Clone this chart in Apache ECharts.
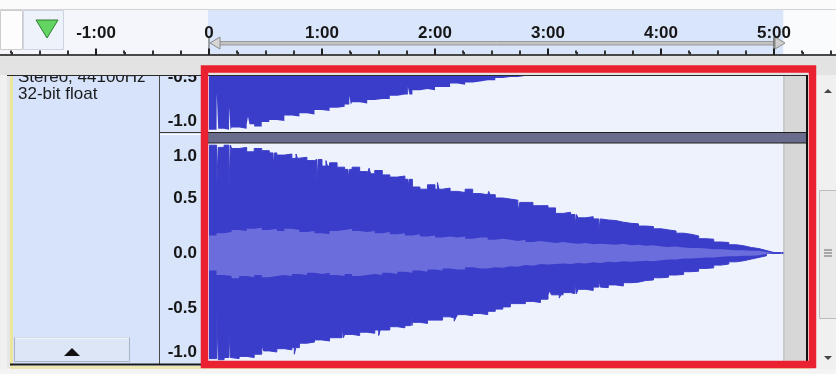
<!DOCTYPE html>
<html>
<head>
<meta charset="utf-8">
<title>track</title>
<script src="https://cdn.jsdelivr.net/npm/echarts@6/dist/echarts.min.js"></script>
<style>
html, body { margin: 0; padding: 0; background: #f0f0f0; }
#main { width: 836px; height: 374px; }
</style>
</head>
<body>
<div id="main"></div>
<script>
// envelope samples: one value every SAMPLE_STEP seconds starting at 0:00
var SAMPLE_STEP = 4;
var TRACK_END = 305;              // seconds
var PLAY_REGION = [0, 300];       // seconds
var RULER_MINUTES = [-2, -1, 0, 1, 2, 3, 4, 5, 6];
var RULER_SUBDIV = 4;             // small ticks per minute
var CHANNEL_TICKS = [-1, -0.5, 0, 0.5, 1];

// right channel (lower track), peak and rms
var RIGHT_PEAK_HI = [
  0.98, 0.96, 0.98, 0.95, 0.96, 0.92, 0.95, 0.93, 0.91, 0.89,
  0.90, 0.86, 0.87, 0.84, 0.85, 0.79, 0.82, 0.78, 0.76, 0.78,
  0.74, 0.72, 0.75, 0.71, 0.69, 0.70, 0.67, 0.60, 0.58, 0.62,
  0.58, 0.59, 0.56, 0.55, 0.58, 0.54, 0.53, 0.53, 0.50, 0.49,
  0.48, 0.46, 0.46, 0.43, 0.43, 0.41, 0.36, 0.37, 0.35, 0.32,
  0.33, 0.31, 0.30, 0.295, 0.28, 0.27, 0.265, 0.245, 0.24, 0.22,
  0.21, 0.20, 0.18, 0.17, 0.155, 0.13, 0.125, 0.10, 0.095, 0.075,
  0.065, 0.05, 0.04, 0.022, 0.004, 0.004, 0.004
];
var RIGHT_PEAK_LO = [
  -0.96, -0.97, -0.95, -0.96, -0.94, -0.95, -0.92, -0.89, -0.90, -0.87,
  -0.88, -0.86, -0.82, -0.81, -0.79, -0.80, -0.77, -0.77, -0.74, -0.75,
  -0.72, -0.73, -0.70, -0.70, -0.67, -0.68, -0.66, -0.63, -0.64, -0.61,
  -0.61, -0.58, -0.59, -0.56, -0.57, -0.55, -0.56, -0.53, -0.51, -0.49,
  -0.46, -0.46, -0.44, -0.45, -0.42, -0.38, -0.38, -0.36, -0.37, -0.33,
  -0.34, -0.31, -0.315, -0.29, -0.30, -0.27, -0.265, -0.25, -0.245, -0.225,
  -0.22, -0.20, -0.195, -0.17, -0.165, -0.14, -0.135, -0.11, -0.10, -0.08,
  -0.07, -0.055, -0.04, -0.025, -0.004, -0.004, -0.004
];
var RIGHT_RMS_HI = [
  0.16, 0.18, 0.19, 0.21, 0.20, 0.22, 0.23, 0.21, 0.22, 0.20,
  0.22, 0.21, 0.19, 0.20, 0.18, 0.17, 0.20, 0.21, 0.22, 0.20,
  0.19, 0.20, 0.18, 0.19, 0.17, 0.18, 0.16, 0.17, 0.15, 0.16,
  0.14, 0.15, 0.14, 0.15, 0.13, 0.14, 0.14, 0.12, 0.13, 0.12,
  0.11, 0.12, 0.10, 0.11, 0.10, 0.09, 0.10, 0.09, 0.085, 0.09,
  0.08, 0.085, 0.08, 0.075, 0.085, 0.07, 0.075, 0.065, 0.07, 0.06,
  0.055, 0.06, 0.05, 0.045, 0.045, 0.04, 0.035, 0.035, 0.03, 0.025,
  0.025, 0.02, 0.02, 0.01, 0, 0, 0
];
var RIGHT_RMS_LO = [
  -0.16, -0.20, -0.21, -0.23, -0.21, -0.22, -0.20, -0.22, -0.21, -0.20,
  -0.21, -0.19, -0.20, -0.18, -0.19, -0.18, -0.20, -0.21, -0.19, -0.21,
  -0.20, -0.19, -0.20, -0.18, -0.19, -0.17, -0.18, -0.16, -0.17, -0.15,
  -0.16, -0.14, -0.15, -0.15, -0.13, -0.14, -0.14, -0.13, -0.135, -0.12,
  -0.125, -0.11, -0.115, -0.10, -0.105, -0.10, -0.095, -0.10, -0.09, -0.095,
  -0.085, -0.09, -0.08, -0.085, -0.075, -0.08, -0.075, -0.07, -0.075, -0.065,
  -0.06, -0.06, -0.05, -0.05, -0.045, -0.04, -0.04, -0.035, -0.03, -0.03,
  -0.025, -0.025, -0.02, -0.01, 0, 0, 0
];
// left channel (upper track), only its lower half shows
var LEFT_PEAK_LO = [
  -0.98, -0.97, -0.98, -0.96, -0.97, -0.93, -0.95, -0.91, -0.89, -0.90,
  -0.85, -0.86, -0.83, -0.84, -0.80, -0.81, -0.78, -0.77, -0.75, -0.73,
  -0.74, -0.71, -0.70, -0.70, -0.67, -0.66, -0.66, -0.62, -0.61, -0.62,
  -0.59, -0.59, -0.56, -0.57, -0.55, -0.54, -0.53, -0.53, -0.51, -0.50,
  -0.50, -0.49, -0.48, -0.47, -0.46, -0.45
];
// short single-column peaks: [seconds, value]
var RIGHT_SPIKES_HI = [[4.1, 0.59], [10.6, 0.61], [34.0, 0.79], [46.2, 0.90], [57.3, 0.65],
  [62.1, 0.84], [73.8, 0.68], [85.0, 0.77], [105.7, 0.61], [121.3, 0.64], [148.5, 0.56],
  [164.2, 0.38], [170.1, 0.47], [194.3, 0.25], [207.0, 0.20]];
var RIGHT_SPIKES_LO = [[4.1, -0.52], [10.6, -0.71], [28.2, -0.84], [45.3, -0.92], [70.6, -0.68],
  [90.1, -0.75], [107.0, -0.55], [130.2, -0.62], [181.0, -0.34], [186.0, -0.41],
  [194.3, -0.27], [207.0, -0.24]];
var LEFT_SPIKES_LO = [[4.1, -0.65], [10.6, -0.77], [20.7, -0.86], [74.5, -0.67], [105.6, -0.59]];

var SPIKE_WIDTH = 0.8;

// layout
var W = 836;
var PX_PER_SEC = 113 / 60;
var ZERO_X = 209;
var CH_HALF = 110;
var FONT = '"Liberation Sans", Arial, sans-serif';
var PEAK = '#3a3dc9', RMS = '#6b6ddd';

var rulerMin = RULER_MINUTES[0] * 60;
var rulerMax = RULER_MINUTES[RULER_MINUTES.length - 1] * 60;
var wavW = TRACK_END * PX_PER_SEC;
var topMax = -1 + 56 / CH_HALF;

function stepData(vals, spikes, end) {
  var pts = vals.map(function (v, i) { return [i * SAMPLE_STEP, v]; });
  spikes.forEach(function (d) {
    var k = Math.floor(d[0] / SAMPLE_STEP);
    pts.push([d[0], d[1]], [d[0] + SPIKE_WIDTH, vals[k]]);
  });
  if (end) pts.push([end, vals[vals.length - 1]]);
  pts.sort(function (a, b) { return a[0] - b[0]; });
  return pts;
}

function wave(xi, yi, data, color, z, origin, lw) {
  return {
    type: 'line', xAxisIndex: xi, yAxisIndex: yi, data: data, step: 'end',
    symbol: 'none', silent: true, z: z, animation: false,
    lineStyle: { width: lw || 0, color: color },
    areaStyle: { color: color, opacity: 1, origin: origin || 'auto' }
  };
}

// ruler tick times: [seconds, 1 for minute marks]
var rulerTicks = [];
RULER_MINUTES.forEach(function (m) {
  for (var q = 0; q < RULER_SUBDIV; q++) rulerTicks.push([m * 60 + q * 60 / RULER_SUBDIV, q === 0 ? 1 : 0]);
});

var labStyle = { fontFamily: FONT, fontSize: 17, fontWeight: 'bold', color: '#161616' };
function chLabel(v) {
  var s = v.toFixed(1);
  if (v === 1) return '{top|' + s + '}';
  if (v === -1) return '{bot|' + s + '}';
  return s;
}
var chRich = {
  top: Object.assign({ padding: [26, 0, 0, 0] }, labStyle),
  bot: Object.assign({ padding: [0, 0, 22, 0] }, labStyle)
};

function chAxis(grid, min, max, ticks) {
  return {
    type: 'value', gridIndex: grid, min: min, max: max, z: 5,
    axisLine: { show: false }, axisTick: { show: false }, splitLine: { show: false },
    axisLabel: Object.assign({ customValues: ticks, margin: 12, formatter: chLabel, rich: chRich }, labStyle)
  };
}

var chart = echarts.init(document.getElementById('main'));

var option = {
  backgroundColor: '#f0f0f0',
  animation: false,
  grid: [
    { left: ZERO_X + rulerMin * PX_PER_SEC, top: 10, width: (rulerMax - rulerMin) * PX_PER_SEC, height: 45,
      outerBoundsMode: 'none' },
    { left: ZERO_X, top: 76, width: wavW, height: 56, outerBoundsMode: 'none' },
    { left: ZERO_X, top: 143, width: wavW, height: 2 * CH_HALF, outerBoundsMode: 'none' }
  ],
  xAxis: [
    {
      type: 'value', gridIndex: 0, min: rulerMin, max: rulerMax, interval: 60, position: 'bottom', z: 30,
      axisLine: { show: true, lineStyle: { color: '#111', width: 1.5 } },
      axisTick: { show: true, inside: true, length: 6, lineStyle: { color: '#222', width: 2 } },
      minorTick: { show: true, splitNumber: RULER_SUBDIV, length: 3, lineStyle: { color: '#333', width: 2 } },
      splitLine: { show: false },
      axisLabel: { show: false }
    },
    {
      type: 'value', gridIndex: 0, min: rulerMin, max: rulerMax, interval: 60, position: 'bottom', z: 30,
      axisLine: { show: false }, axisTick: { show: false }, splitLine: { show: false },
      axisLabel: Object.assign({ inside: true, margin: 13,
        formatter: function (v) { var m = Math.round(v / 60); return m === 0 ? '0' : m + ':00'; }
      }, labStyle)
    },
    { type: 'value', gridIndex: 1, min: 0, max: TRACK_END, show: false },
    { type: 'value', gridIndex: 2, min: 0, max: TRACK_END, show: false }
  ],
  yAxis: [
    { type: 'value', gridIndex: 0, min: 0, max: 1, show: false },
    chAxis(1, -1, topMax, CHANNEL_TICKS.filter(function (v) { return v <= topMax; })),
    chAxis(2, -1, 1, CHANNEL_TICKS)
  ],
  series: [
    {
      // ruler ticks drawn as a custom series on the ruler axis
      type: 'custom', xAxisIndex: 0, yAxisIndex: 0, data: rulerTicks, silent: true, z: 40, clip: false,
      renderItem: function (params, api) {
        var p = api.coord([api.value(0), 0]);
        var big = api.value(1) === 1;
        return {
          type: 'rect',
          shape: { x: Math.round(p[0]) - 1, y: p[1] - (big ? 6.5 : 4.5), width: 2, height: big ? 6.5 : 3 },
          style: { fill: big ? '#1e1e1e' : '#333333' }
        };
      }
    },
    wave(2, 1, stepData(LEFT_PEAK_LO, LEFT_SPIKES_LO), PEAK, 10, 'end'),
    wave(3, 2, stepData(RIGHT_PEAK_HI, RIGHT_SPIKES_HI, TRACK_END), PEAK, 10, 'auto', 1),
    wave(3, 2, stepData(RIGHT_PEAK_LO, RIGHT_SPIKES_LO, TRACK_END), PEAK, 10, 'auto', 1),
    wave(3, 2, stepData(RIGHT_RMS_HI, [], TRACK_END), RMS, 11),
    wave(3, 2, stepData(RIGHT_RMS_LO, [], TRACK_END), RMS, 11)
  ]
};
chart.setOption(option);

// window chrome around the track
function rect(x, y, w, h, fill, z, stroke) {
  return { type: 'rect', silent: true, z: z, shape: { x: x, y: y, width: w, height: h },
    style: { fill: fill, stroke: stroke || null, lineWidth: 1 } };
}
function seg(x1, y1, x2, y2, color, w, z) {
  return { type: 'line', silent: true, z: z, shape: { x1: x1, y1: y1, x2: x2, y2: y2 },
    style: { stroke: color, lineWidth: w } };
}
function poly(pts, fill, stroke, z) {
  return { type: 'polygon', silent: true, z: z, shape: { points: pts },
    style: { fill: fill, stroke: stroke || null, lineWidth: 1 } };
}
function label(txt, x, y, z) {
  return { type: 'text', silent: true, z: z, x: x, y: y,
    style: { text: txt, font: '17px ' + FONT, fill: '#1a1a1a', verticalAlign: 'middle' } };
}

var rx = function (t) { return chart.convertToPixel({ xAxisIndex: 0 }, t); };
var wx = function (t) { return chart.convertToPixel({ xAxisIndex: 3 }, t); };
var x0 = rx(0), rEnd = rx(TRACK_END), pa = rx(PLAY_REGION[0]), pb = rx(PLAY_REGION[1]);
var xEnd = wx(TRACK_END);

// z: 1 backgrounds, 5 axis labels, 10-11 waveform, 30-40 ruler, 50+ chrome on top
var g = [
  // ruler background
  rect(0, 10, x0 - 1, 44, '#f4f6fb', 1),
  rect(x0 - 1, 10, rEnd - x0 + 1, 44, '#d8e5fb', 1),
  rect(rEnd, 10, W - rEnd, 44, '#fafbfd', 1),
  rect(0, 0, W, 10, '#fbfbfb', 60),
  seg(0, 9.5, W, 9.5, '#d4d4d4', 1, 60),
  rect(0.5, 10.5, 22, 39, '#fdfdfd', 60, '#cccccc'),
  rect(23.5, 10.5, 40, 39, '#eef2fa', 60, '#cfd5e0'),
  poly([[36, 20], [58, 20], [47, 38]], '#62d462', '#2e7d32', 61),
  // play region
  rect(pa + 10, 41.5, pb - pa - 10, 3.5, '#c2c2c2', 20, '#999999'),
  seg(pa, 37, pa, 54, '#8a8a8a', 1.5, 21),
  poly([[pa + 1, 43], [pa + 11, 37], [pa + 11, 49]], '#d6d6d6', '#8a8a8a', 21),
  seg(pb, 37, pb, 54, '#6a6a6a', 1.5, 21),
  poly([[pb + 11, 43], [pb + 1, 37], [pb + 1, 49]], '#cfcfcf', '#8a8a8a', 21),
  // bar between ruler and track
  rect(0, 56.3, W, 18.7, '#e3e3e3', 50),
  seg(7, 75.5, 807, 75.5, '#2a2a2a', 1.2, 50),
  // track info panel
  rect(7, 76, 3, 292, '#e6e6e6', 1),
  rect(10, 76, 3, 292, '#ebe69a', 1),
  rect(13, 76, 146, 288, '#d6e3fa', 1),
  rect(160, 76, 47, 288, '#d8e4fa', 1),
  seg(159.5, 76, 159.5, 364, '#4a4a4a', 1, 2),
  seg(160, 132.5, 207, 132.5, '#3a3a3a', 1, 2),
  seg(160, 134.5, 207, 134.5, '#ffffff', 1, 2),
  label('Stereo, 44100Hz', 18, 77, 20),
  label('32-bit float', 18, 94, 20),
  rect(14.5, 337.5, 115, 24, '#dde6f6', 50, '#a9b3c6'),
  seg(15, 338, 129, 338, '#ffffff', 1, 51),
  poly([[64, 356], [80, 356], [72, 348]], '#111111', null, 51),
  seg(10, 364.5, 207, 364.5, '#1a1a1a', 2, 50),
  rect(10, 366, 800, 3, '#ece8b0', 40),
  rect(0, 369, W, 5, '#f4f4f4', 40),
  // waveform area
  rect(207, 76, xEnd - 207, 288, '#edf2fd', 1),
  rect(xEnd, 76, 806 - xEnd, 288, '#d7d7d7', 1),
  seg(xEnd + 0.5, 76, xEnd + 0.5, 364, '#b8b8b8', 1, 2),
  rect(207, 132.5, 600, 10.5, '#696c8a', 50, '#1e1e1e'),
  seg(807, 75, 807, 364, '#111111', 2, 50),
  // scroll bar
  poly([[824, 93], [832, 93], [828, 89]], '#444444', null, 50),
  rect(819.5, 190.5, 17, 128, '#e9e9e9', 50, '#bdbdbd'),
  seg(824, 250, 832, 250, '#666666', 1, 51),
  seg(824, 253, 832, 253, '#666666', 1, 51),
  seg(824, 256, 832, 256, '#666666', 1, 51),
  poly([[824, 356], [832, 356], [828, 360]], '#444444', null, 50),
  // highlight frame
  { type: 'rect', silent: true, z: 100, shape: { x: 204.5, y: 69, width: 608, height: 295.5 },
    style: { fill: null, stroke: '#ea2130', lineWidth: 7.5 } }
];
chart.setOption({ graphic: { elements: g } });
</script>
</body>
</html>
